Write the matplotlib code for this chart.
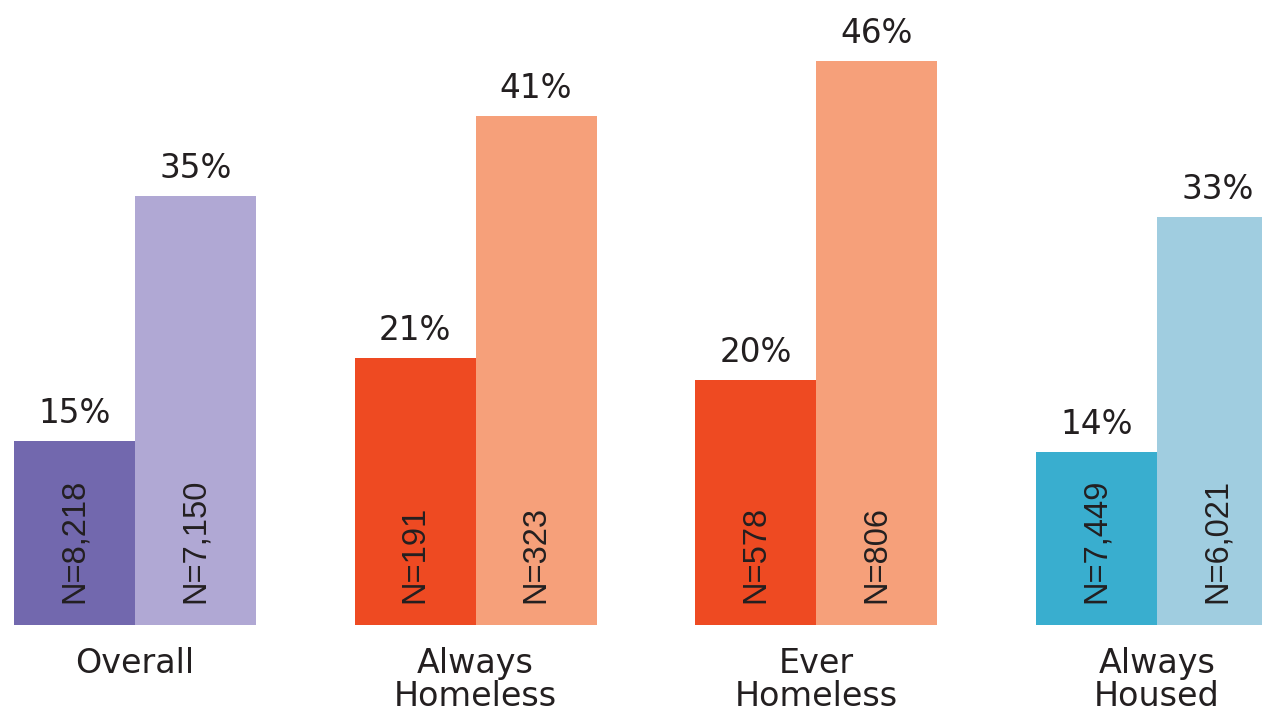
import matplotlib.pyplot as plt

plt.rcParams['font.family'] = ['DejaVu Sans']

CATEGORIES = ['Overall', 'Always\nHomeless', 'Ever\nHomeless', 'Always\nHoused']
BEFORE = [15.0, 21.8, 20.0, 14.1]
AFTER = [35.0, 41.5, 46.0, 33.3]
BEFORE_LABELS = ['15%', '21%', '20%', '14%']
AFTER_LABELS = ['35%', '41%', '46%', '33%']
BEFORE_N = ['N=8,218', 'N=191', 'N=578', 'N=7,449']
AFTER_N = ['N=7,150', 'N=323', 'N=806', 'N=6,021']
DARK_COLORS = ['#7268ae', '#ee4a22', '#ee4a22', '#39aecf']
LIGHT_COLORS = ['#b0a8d4', '#f6a07a', '#f6a07a', '#a0cde0']
TEXT = '#231f20'


def main():
    fig = plt.figure(figsize=(12.62, 7.11), dpi=100)
    ax = fig.add_axes([0, 0, 1, 1])

    width = 0.355
    for i in range(len(CATEGORIES)):
        x0 = i - width / 2
        x1 = i + width / 2
        ax.bar(x0, BEFORE[i], width=width, color=DARK_COLORS[i])
        ax.bar(x1, AFTER[i], width=width, color=LIGHT_COLORS[i])

        ax.text(x0, BEFORE[i] + 0.9, BEFORE_LABELS[i], ha='center', va='bottom',
                fontsize=23.5, color=TEXT)
        ax.text(x1, AFTER[i] + 0.9, AFTER_LABELS[i], ha='center', va='bottom',
                fontsize=23.5, color=TEXT)

        # N counts, written upward inside the bars
        ax.text(x0, 1.8, BEFORE_N[i], rotation=90, ha='center', va='bottom',
                fontsize=23.5, color=TEXT, family='Liberation Sans')
        ax.text(x1, 1.8, AFTER_N[i], rotation=90, ha='center', va='bottom',
                fontsize=23.5, color=TEXT, family='Liberation Sans')

        ax.text(i, -1.8, CATEGORIES[i], ha='center', va='top', fontsize=24,
                color=TEXT, linespacing=1.0)

    ax.set_xlim(-0.396, 3.308)
    ax.set_ylim(-7.02, 51.0)
    ax.axis('off')

    plt.savefig('out.png', dpi=100)


if __name__ == '__main__':
    main()
